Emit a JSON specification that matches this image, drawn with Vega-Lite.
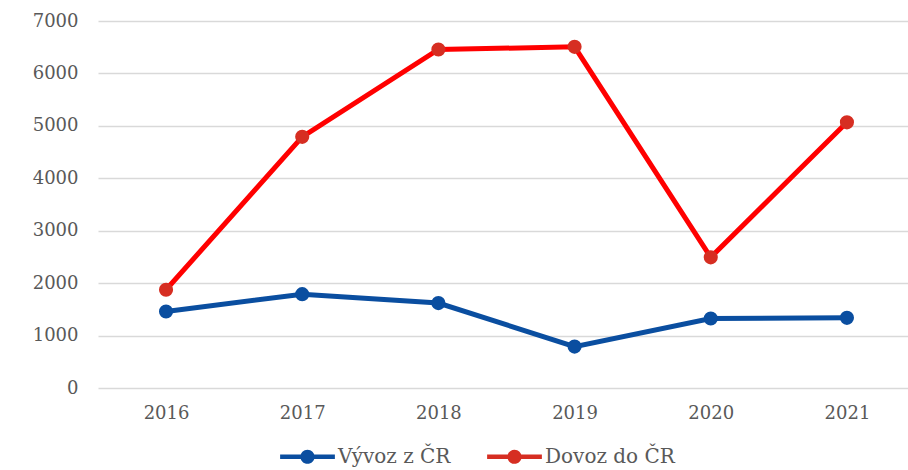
{
  "$schema": "https://vega.github.io/schema/vega-lite/v6.json",
  "width": 908,
  "height": 470,
  "autosize": {"type": "fit", "contains": "padding"},
  "padding": {"left": 32, "right": 0, "top": 12, "bottom": 48},
  "background": "white",
  "config": {
    "view": {"stroke": null},
    "font": "DejaVu Serif",
    "axis": {"labelFont": "DejaVu Serif", "labelColor": "#595959", "labelFontSize": 18}
  },
  "data": {
    "values": [
      {"rok": "2016", "serie": "Vývoz z ČR", "hodnota": 1460},
      {"rok": "2017", "serie": "Vývoz z ČR", "hodnota": 1790},
      {"rok": "2018", "serie": "Vývoz z ČR", "hodnota": 1620},
      {"rok": "2019", "serie": "Vývoz z ČR", "hodnota": 790},
      {"rok": "2020", "serie": "Vývoz z ČR", "hodnota": 1325},
      {"rok": "2021", "serie": "Vývoz z ČR", "hodnota": 1338},
      {"rok": "2016", "serie": "Dovoz do ČR", "hodnota": 1874},
      {"rok": "2017", "serie": "Dovoz do ČR", "hodnota": 4790},
      {"rok": "2018", "serie": "Dovoz do ČR", "hodnota": 6457},
      {"rok": "2019", "serie": "Dovoz do ČR", "hodnota": 6507},
      {"rok": "2020", "serie": "Dovoz do ČR", "hodnota": 2492},
      {"rok": "2021", "serie": "Dovoz do ČR", "hodnota": 5067}
    ]
  },
  "encoding": {
    "x": {
      "field": "rok", "type": "ordinal",
      "scale": {"type": "point", "padding": 0.474, "align": 0.527},
      "axis": {"title": null, "labelAngle": 0, "domain": false, "ticks": false, "labelPadding": 16, "grid": false}
    },
    "y": {
      "field": "hodnota", "type": "quantitative",
      "scale": {"domain": [0, 7000], "nice": false},
      "axis": {"title": null, "values": [0,1000,2000,3000,4000,5000,6000,7000], "format": "d", "domain": false, "ticks": false, "labelPadding": 20, "grid": true, "gridColor": "#D9D9D9", "gridWidth": 1.5}
    }
  },
  "layer": [
    {
      "mark": {"type": "line", "strokeWidth": 5},
      "encoding": {
        "color": {
          "field": "serie", "type": "nominal",
          "scale": {"domain": ["Vývoz z ČR", "Dovoz do ČR"], "range": ["#0A4EA0", "#FF0000"]},
          "legend": {
            "title": null, "orient": "none", "direction": "horizontal",
            "legendX": 182, "legendY": 408,
            "labelFont": "DejaVu Serif", "labelFontSize": 20, "labelColor": "#595959",
            "symbolType": "M-1,-0.08H1V0.08H-1Z M-0.26,0A0.26,0.26 0 1,1 0.26,0A0.26,0.26 0 1,1 -0.26,0Z",
            "symbolSize": 3000, "symbolStrokeWidth": 0, "symbolOpacity": 1,
            "columnPadding": 36, "labelOffset": 3
          }
        }
      }
    },
    {
      "mark": {"type": "point", "filled": true, "size": 200, "opacity": 1},
      "encoding": {
        "fill": {
          "field": "serie", "type": "nominal",
          "scale": {"domain": ["Vývoz z ČR", "Dovoz do ČR"], "range": ["#0A4EA0", "#D62E22"]},
          "legend": null
        }
      }
    }
  ]
}
